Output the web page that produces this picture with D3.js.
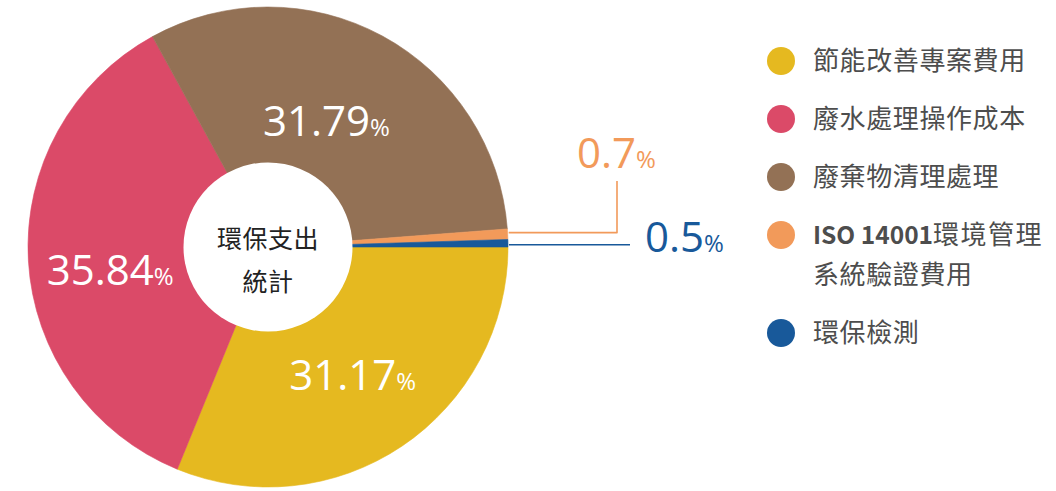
<!DOCTYPE html>
<html>
<head>
<meta charset="utf-8">
<script src="https://cdn.jsdelivr.net/npm/d3@7"></script>
<style>
  html, body { margin: 0; padding: 0; background: #ffffff; }
  svg { display: block; }
</style>
</head>
<body>
<svg id="chart" width="1056" height="491"></svg>
<script>
// Environmental expenditure breakdown (percent of total)
const categories = ["節能改善專案費用", "廢水處理操作成本", "廢棄物清理處理", "ISO 14001環境管理系統驗證費用", "環保檢測"];
const shares = [31.17, 35.84, 31.79, 0.7, 0.5];
const colors = ["#E5B920", "#DB4A68", "#937155", "#F29A5A", "#18599A"];
// Legend text, split where the long entry wraps
const legendLines = [
  ["節能改善專案費用"],
  ["廢水處理操作成本"],
  ["廢棄物清理處理"],
  ["ISO 14001環境管理", "系統驗證費用"],
  ["環保檢測"]
];
const centerTitle = ["環保支出", "統計"];

// ---- layout ----
const cx = 268, cy = 247;
const outerR = 240, holeR = 84.5;
const numberFont = "'Open Sans', 'Noto Sans', sans-serif";
const cjkFont = "'Noto Sans CJK TC', 'Noto Sans CJK JP', sans-serif";

const svg = d3.select("#chart");
const g = svg.append("g").attr("transform", `translate(${cx},${cy})`);

const pie = d3.pie()
  .sort(null)
  .value(d => d.value)
  .startAngle(Math.PI / 2)
  .endAngle(Math.PI / 2 + 2 * Math.PI);

const data = categories.map((c, i) => ({ name: c, value: shares[i], color: colors[i], index: i }));
const arcs = pie(data);

const arc = d3.arc().innerRadius(0).outerRadius(outerR);

// slices
g.selectAll("path.slice")
  .data(arcs)
  .join("path")
  .attr("class", "slice")
  .attr("d", arc)
  .attr("fill", d => d.data.color)
  .attr("stroke", d => d.data.color)
  .attr("stroke-width", 0.6);

// white hole
g.append("circle").attr("r", holeR).attr("fill", "#ffffff");

// centre title
g.append("text")
  .attr("text-anchor", "middle")
  .attr("font-family", cjkFont)
  .attr("font-size", 25)
  .attr("fill", "#222222")
  .selectAll("tspan")
  .data(centerTitle)
  .join("tspan")
  .attr("x", 0)
  .attr("y", (d, i) => 1 + i * 42.5)
  .attr("letter-spacing", 0.5)
  .text(d => d);

// labels inside the large slices
const labelArc = d3.arc().innerRadius(150).outerRadius(150);
const labelNudge = { 0: [1, 3.5], 1: [-8, 14.5], 2: [-13, 6] };
const fmt = v => String(v);

const inside = arcs.filter(d => d.data.value >= 5);
const insideText = g.selectAll("text.inside")
  .data(inside)
  .join("text")
  .attr("class", "inside")
  .attr("text-anchor", "middle")
  .attr("font-family", numberFont)
  .attr("fill", "#ffffff")
  .attr("transform", d => {
    const [x, y] = labelArc.centroid(d);
    const n = labelNudge[d.data.index] || [0, 0];
    return `translate(${x + n[0]},${y + n[1] + 15})`;
  });
insideText.append("tspan").attr("font-size", 42).text(d => fmt(d.data.value));
insideText.append("tspan").attr("font-size", 24).text("%");

// leader lines + labels for the thin slices
const small = arcs.filter(d => d.data.value < 5);
const leaderSpec = {
  3: { elbowX: 617 - cx, topY: 181 - cy },   // bent up
  4: { endX: 630 - cx }                      // straight out
};
small.forEach(d => {
  const mid = (d.startAngle + d.endAngle) / 2;
  const sx = Math.sin(mid) * (outerR + 1);
  const sy = -Math.cos(mid) * (outerR + 1);
  const spec = leaderSpec[d.data.index];
  let pts, lx, ly;
  if (spec.elbowX !== undefined) {
    const y0 = sy - 1.5;
    pts = [[sx, y0], [spec.elbowX, y0], [spec.elbowX, spec.topY]];
    lx = spec.elbowX - 40; ly = spec.topY - 13;
  } else {
    const y0 = sy + 1.5;
    pts = [[sx, y0], [spec.endX, y0]];
    lx = spec.endX + 15; ly = y0 + 7.5;
  }
  g.append("path")
    .attr("d", d3.line()(pts))
    .attr("fill", "none")
    .attr("stroke", d.data.color)
    .attr("stroke-width", 1.6)
    .attr("stroke-linejoin", "round");
  const t = g.append("text")
    .attr("x", lx).attr("y", ly)
    .attr("text-anchor", "start")
    .attr("font-family", numberFont)
    .attr("fill", d.data.color);
  t.append("tspan").attr("font-size", 42).text(fmt(d.data.value));
  t.append("tspan").attr("font-size", 24).text("%");
});

// legend
const legend = svg.append("g").attr("class", "legend");
const legendX = 781, textX = 813, firstY = 61, itemGap = 58, lineStep = 40;
let yCursor = firstY;
legendLines.forEach((lines, i) => {
  const item = legend.append("g");
  item.append("circle")
    .attr("cx", legendX).attr("cy", yCursor)
    .attr("r", 14)
    .attr("fill", colors[i]);
  lines.forEach((line, j) => {
    const t = item.append("text")
      .attr("x", textX)
      .attr("y", yCursor + j * lineStep + 9)
      .attr("font-family", cjkFont)
      .attr("font-size", 26)
      .attr("letter-spacing", 0.6)
      .attr("fill", "#4d4d4d");
    const m = line.match(/^[A-Za-z0-9 ]+/);
    if (m) {
      t.append("tspan").attr("font-weight", 700).attr("font-size", 24.5).attr("letter-spacing", 0).text(m[0]);
      t.append("tspan").attr("letter-spacing", 1.5).text(line.slice(m[0].length));
    } else {
      t.text(line);
    }
  });
  yCursor += itemGap + (lines.length - 1) * lineStep;
});
</script>
</body>
</html>
